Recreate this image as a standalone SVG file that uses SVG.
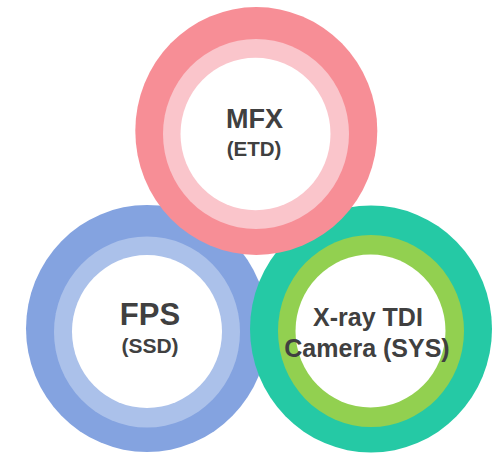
<svg xmlns="http://www.w3.org/2000/svg" width="502" height="453" viewBox="0 0 502 453">
  <style>
    .label { font-family: "Liberation Sans", Arial, sans-serif; font-weight: bold; fill: #404040; text-anchor: middle; }
    .core { fill: #ffffff; }
  </style>
  <rect width="502" height="453" fill="#ffffff"/>
  <g id="connectors"></g>
  <!-- FPS ring (bottom left) -->
  <g id="node-fps">
    <ellipse cx="147" cy="328.5" rx="121" ry="123.5" fill="#84A3E0"/>
    <ellipse cx="147" cy="332" rx="93" ry="95.5" fill="#ABC1EA"/>
    <ellipse class="core" cx="147" cy="331.5" rx="75" ry="76.5"/>
    <text class="label" x="150" y="325" font-size="31">FPS</text>
    <text class="label" x="150" y="353" font-size="21">(SSD)</text>
  </g>
  <!-- X-ray TDI camera ring (bottom right) -->
  <g id="node-camera">
    <ellipse cx="371" cy="329" rx="121" ry="123.5" fill="#25C9A5"/>
    <ellipse cx="371" cy="331" rx="93" ry="96" fill="#92D050"/>
    <ellipse class="core" cx="370.5" cy="331" rx="75" ry="76.5"/>
    <text class="label" x="368" y="326" font-size="25">X-ray TDI</text>
    <text class="label" x="367" y="357" font-size="25">Camera (SYS)</text>
  </g>
  <!-- MFX ring (top) -->
  <g id="node-mfx">
    <ellipse cx="256.3" cy="131" rx="121" ry="124" fill="#F78E96"/>
    <ellipse cx="256" cy="134" rx="93" ry="95" fill="#FAC5CB"/>
    <ellipse class="core" cx="255.5" cy="134" rx="75" ry="76.3"/>
    <text class="label" x="254.5" y="128" font-size="27">MFX</text>
    <text class="label" x="254" y="156" font-size="20.5">(ETD)</text>
  </g>
</svg>
